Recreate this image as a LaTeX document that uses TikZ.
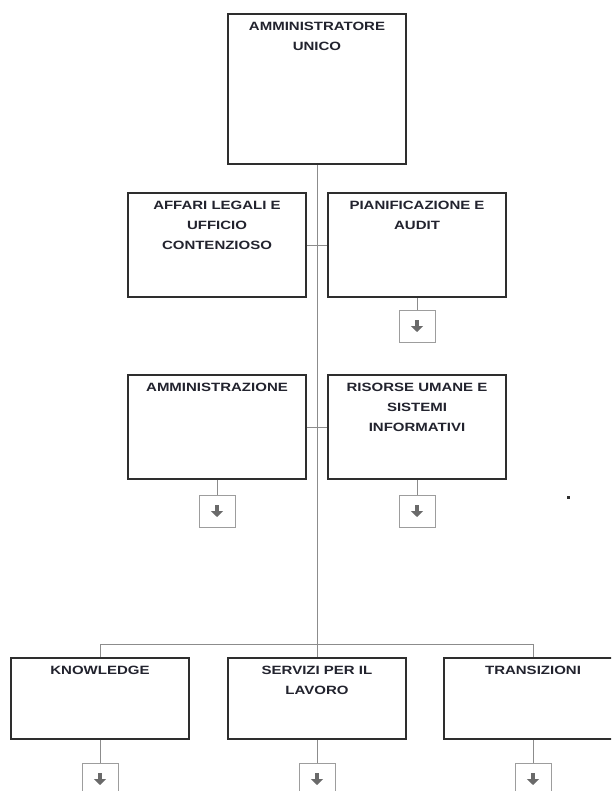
\documentclass[tikz,border=0pt]{standalone}
\usepackage{fontspec}
\setmainfont{Liberation Sans}[FakeStretch=1.25]
\usetikzlibrary{arrows.meta}
\definecolor{boxline}{HTML}{2E2E2E}
\definecolor{wire}{HTML}{8C8C8C}
\definecolor{ink}{HTML}{22232E}
\definecolor{tipgray}{HTML}{6A6A6A}
\begin{document}
\begin{tikzpicture}[x=1pt,y=-1pt,
    box/.style={draw=boxline,line width=1.8pt,minimum width=178pt,inner sep=0pt},
    lbl/.style={anchor=north,yshift=-9pt,inner sep=0pt,align=center,text=ink,
      font=\fontsize{12}{20}\selectfont\bfseries},
    sub/.style={draw=wire!85,line width=0.8pt,minimum width=36pt,minimum height=32pt,inner sep=0pt},
    ln/.style={draw=wire,line width=0.9pt},
    glyph/.style={draw=tipgray,line width=3.2pt,-{Triangle[width=12pt,length=6pt]}}]
  \useasboundingbox (0,0) rectangle (611,791);
  \clip (0,0) rectangle (611,791);
  \fill[white] (0,0) rectangle (611,791);
  % the units
  \node[box,minimum height=150pt] (uni) at (317,89) {};
  \node[box,minimum height=104pt] (leg) at (217,245) {};
  \node[box,minimum height=104pt] (pia) at (417,245) {};
  \node[box,minimum height=104pt] (amm) at (217,427) {};
  \node[box,minimum height=104pt] (ris) at (417,427) {};
  \node[box,minimum height=81pt]  (kno) at (100,698.5) {};
  \node[box,minimum height=81pt]  (ser) at (317,698.5) {};
  \node[box,minimum height=81pt]  (tra) at (533,698.5) {};
  % their titles
  \node[lbl] (uni-t) at (uni.north) {AMMINISTRATORE\\UNICO};
  \node[lbl] (leg-t) at (leg.north) {AFFARI LEGALI E\\UFFICIO\\CONTENZIOSO};
  \node[lbl] (pia-t) at (pia.north) {PIANIFICAZIONE E\\AUDIT};
  \node[lbl] (amm-t) at (amm.north) {AMMINISTRAZIONE};
  \node[lbl] (ris-t) at (ris.north) {RISORSE UMANE E\\SISTEMI\\INFORMATIVI};
  \node[lbl] (kno-t) at (kno.north) {KNOWLEDGE};
  \node[lbl] (ser-t) at (ser.north) {SERVIZI PER IL\\LAVORO};
  \node[lbl] (tra-t) at (tra.north) {TRANSIZIONI};
  % the small expand boxes
  \node[sub] (pia-m) at (417,326) {};
  \node[sub] (amm-m) at (217,511) {};
  \node[sub] (ris-m) at (417,511) {};
  \node[sub] (kno-m) at (100,779) {};
  \node[sub] (ser-m) at (317,779) {};
  \node[sub] (tra-m) at (533,779) {};
  % the lines
  \draw[ln] (uni.south) -- (ser.north);
  \draw[ln] (leg.east) -- (pia.west);
  \draw[ln] (amm.east) -- (ris.west);
  \draw[ln] (kno.north) -- ++(0,-13) -| (tra.north);
  \foreach \n in {pia,amm,ris,kno,ser,tra}{
    \draw[ln] (\n.south) -- (\n-m.north);
    \draw[glyph] ([yshift=6pt]\n-m.center) -- ([yshift=-6pt]\n-m.center);
  }
  \fill[boxline] (567,496) rectangle (570,499);
\end{tikzpicture}
\end{document}
